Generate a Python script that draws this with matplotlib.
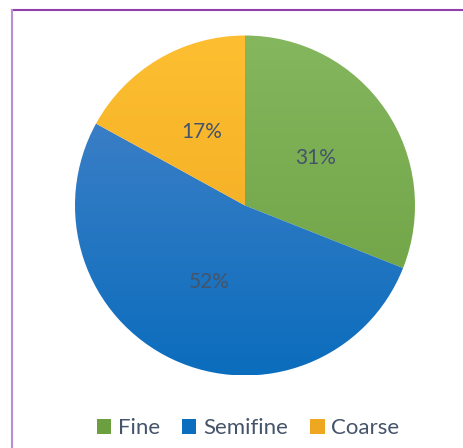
import numpy as np
import matplotlib
matplotlib.use("Agg")
import matplotlib.pyplot as plt
from matplotlib.colors import LinearSegmentedColormap
from matplotlib.patches import Patch
from matplotlib.lines import Line2D

categories = ["Fine", "Semifine", "Coarse"]
shares = [31, 52, 17]
# (top colour, bottom colour) of each slice's vertical shading
shades = [("#84b75e", "#6c9f40"), ("#4a84c9", "#0b6dbd"), ("#fdbf31", "#efa620")]
label_color = "#44546a"

plt.rcParams["font.family"] = ["Lato", "DejaVu Sans"]

fig = plt.figure(figsize=(4.63, 4.48), dpi=100)
W, H = 463, 448
cx, cy, r = 245, 205.5, 170
ax = fig.add_axes([(cx - r) / W, (H - cy - r) / H, 2 * r / W, 2 * r / H])

wedges, texts, autotexts = ax.pie(
    shares, startangle=90, counterclock=False, radius=1,
    autopct="%1.0f%%", pctdistance=0.5,
    wedgeprops=dict(linewidth=0, antialiased=True),
    textprops=dict(color=label_color, fontsize=15),
)

# replace flat fills by a top-to-bottom gradient clipped to each wedge
grad = np.linspace(0, 1, 256).reshape(-1, 1)
for w, (top, bot) in zip(wedges, shades):
    cmap = LinearSegmentedColormap.from_list("s", [top, bot])
    w.set_facecolor("none")
    im = ax.imshow(grad, cmap=cmap, extent=[-1, 1, -1, 1], origin="upper",
                   aspect="auto", zorder=w.get_zorder() - 0.1)
    im.set_clip_path(w)
for t in autotexts:
    t.set_zorder(5)

ax.set_xlim(-1, 1)
ax.set_ylim(-1, 1)
ax.set_aspect("equal")
ax.axis("off")

handles = [Patch(facecolor=c[1], edgecolor="none") for c in shades]
fig.legend(handles, categories, loc="center", bbox_to_anchor=(248 / W, 1 - 428 / H),
           ncol=3, frameon=False, fontsize=16, handlelength=0.65, handleheight=0.65,
           handletextpad=0.3, columnspacing=1.0, labelcolor=label_color)

# chart frame lines
fig.add_artist(Line2D([12 / W, 1], [1 - 10 / H, 1 - 10 / H], color="#9040ac", lw=1.5))
fig.add_artist(Line2D([12 / W, 12 / W], [0, 1 - 10 / H], color="#b88fd0", lw=1.5))

fig.savefig("out.png", dpi=100)
